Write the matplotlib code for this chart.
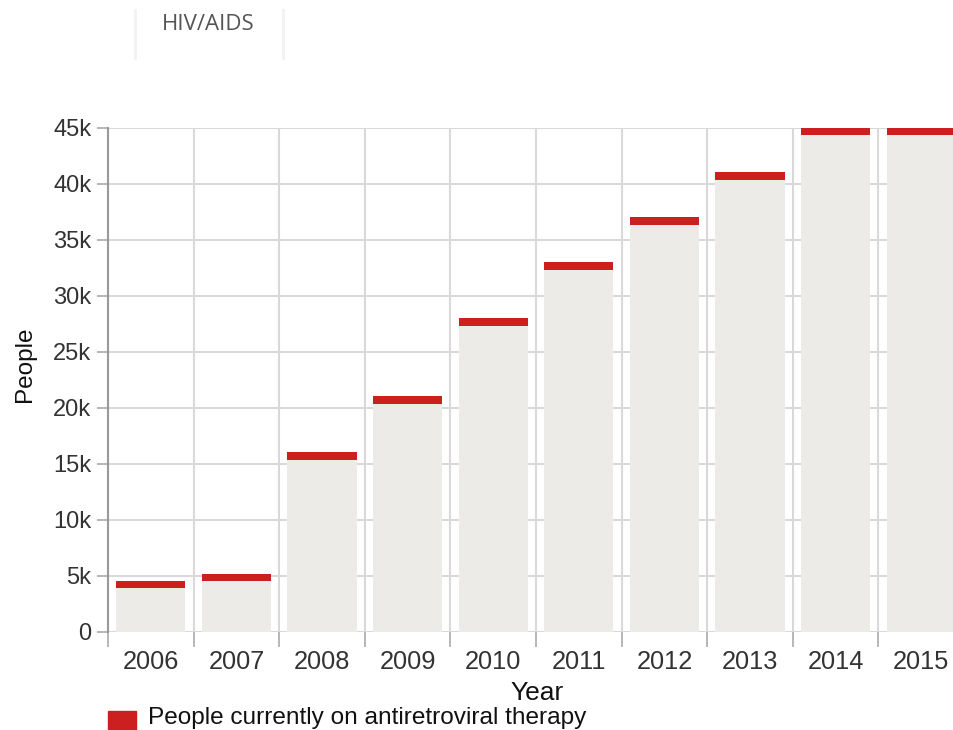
import numpy as np
import matplotlib
matplotlib.use("Agg")
import matplotlib.pyplot as plt
from matplotlib.ticker import FixedLocator, FuncFormatter

# ---- data ----
years = ["2006", "2007", "2008", "2009", "2010", "2011", "2012", "2013", "2014", "2015"]
on_art = [4250, 4850, 15700, 20700, 27700, 32700, 36700, 40700, 44700, 44700]
y_ticks = [0, 5000, 10000, 15000, 20000, 25000, 30000, 35000, 40000, 45000]

BAR_GREY = "#ecebe7"
ART_RED = "#cc1f1f"
GRID = "#d9d9d9"
TEXT = "#333333"

plt.rcParams['font.family'] = ['Liberation Sans', 'DejaVu Sans']

fig = plt.figure(figsize=(9.54, 7.3), dpi=100)
ax = fig.add_axes([108 / 954, 1 - 632 / 730, (964 - 108) / 954, (632 - 128) / 730])

x = np.arange(len(years))
band = 680  # thickness of the red marker in data units

ax.bar(x, on_art, width=0.81, color=BAR_GREY, zorder=2)
ax.bar(x, band, bottom=np.array(on_art) - band / 2, width=0.81, color=ART_RED, zorder=3)

ax.set_xlim(-0.5, len(years) - 0.5)
ax.set_ylim(0, 45000)

# boundaries between columns carry ticks and vertical grid
ax.xaxis.set_major_locator(FixedLocator(x - 0.5))
ax.xaxis.set_major_formatter(FuncFormatter(lambda v, p: ""))
ax.xaxis.set_minor_locator(FixedLocator(x))
ax.set_xticklabels(years, minor=True)
ax.tick_params(axis="x", which="major", length=11, width=1.2, color="#aaaaaa", direction="out")
ax.tick_params(axis="x", which="minor", length=0, pad=13, labelsize=18.3, labelcolor=TEXT)

ax.set_yticks(y_ticks)
ax.yaxis.set_major_formatter(FuncFormatter(lambda v, p: "0" if v == 0 else f"{int(v / 1000)}k"))
ax.tick_params(axis="y", length=8, width=1.2, color="#aaaaaa", pad=4, labelsize=17, labelcolor=TEXT)

ax.grid(True, which="major", color=GRID, linewidth=1.5, zorder=1)
ax.set_axisbelow(True)

for side in ["top", "right", "bottom"]:
    ax.spines[side].set_visible(False)
ax.spines["left"].set_color("#999999")
ax.spines["left"].set_linewidth(1.5)
ax.spines["left"].set_bounds(0, 45000)

# axis titles
fig.text(25 / 954, 1 - 364 / 730, "People", rotation=90, fontsize=17.5, color="#111111",
         ha="center", va="center")
fig.text(537 / 954, 1 - 693 / 730, "Year", fontsize=19, color="#111111", ha="center", va="center")

# legend
fig.patches.append(plt.Rectangle((108 / 954, 0), 28 / 954, 19 / 730, transform=fig.transFigure,
                                 color=ART_RED, figure=fig))
fig.text(148 / 954, 1 - 718 / 730, "People currently on antiretroviral therapy", fontsize=17.6,
         color="#111111", ha="left", va="center")

# tab header
fig.text(208 / 954, 1 - 24 / 730, "HIV/AIDS", fontsize=16, color="#555555",
         family=["Open Sans", "DejaVu Sans"], ha="center", va="center")
for xp in (135, 283):
    fig.add_artist(plt.Line2D([xp / 954, xp / 954], [1 - 10 / 730, 1 - 58 / 730],
                              transform=fig.transFigure, color="#f2f2f2", linewidth=2))

fig.savefig("out.png", dpi=100)
